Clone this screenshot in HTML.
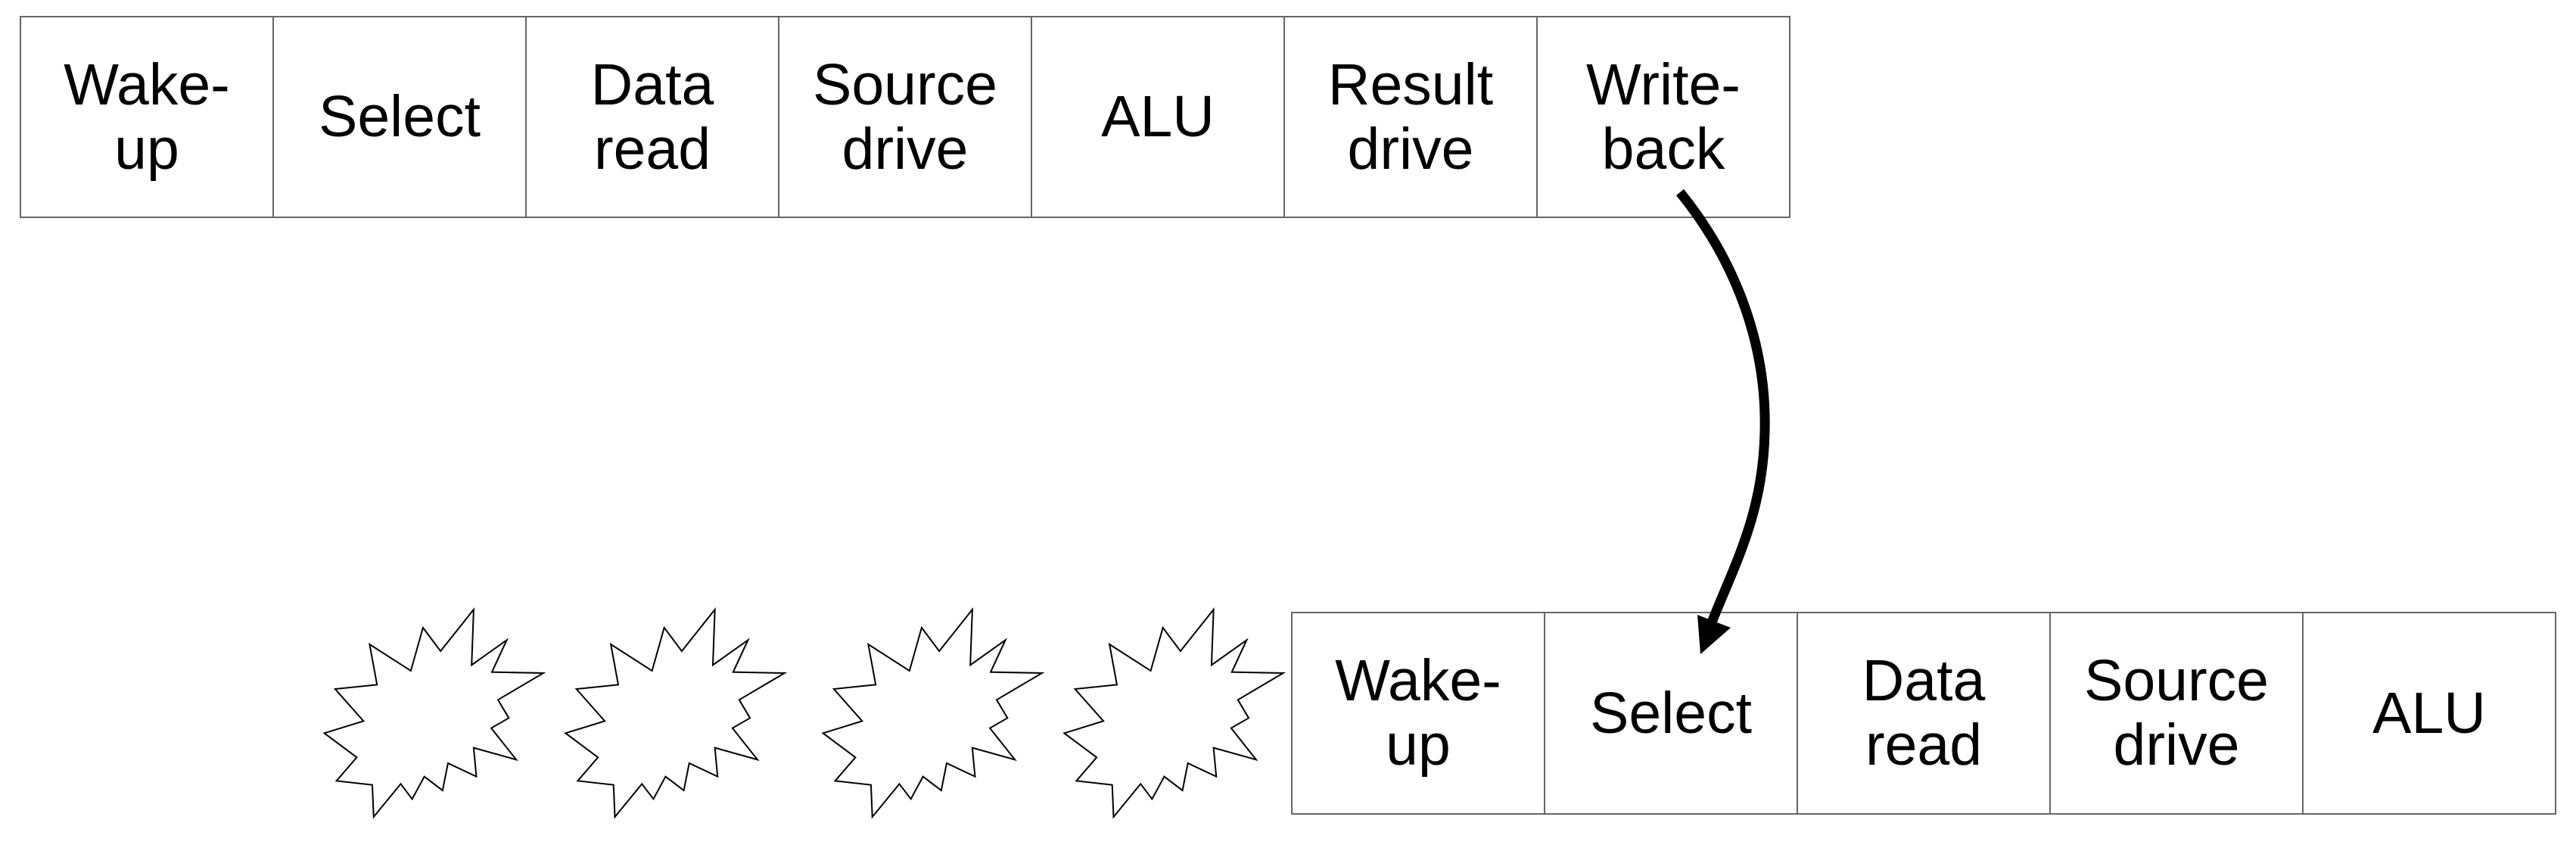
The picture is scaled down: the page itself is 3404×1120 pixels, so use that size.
<!DOCTYPE html>
<html><head><style>
html,body{margin:0;padding:0;background:#fff;}
body{width:3404px;height:1120px;position:relative;overflow:hidden;font-family:"Liberation Sans",sans-serif;}
.c{position:absolute;box-sizing:border-box;border:2px solid #666;display:flex;align-items:center;justify-content:center;text-align:center;font-size:77px;line-height:85px;color:#000;}
</style></head><body>
<div class="c" style="left:26px;top:21px;width:336px;height:267px;">Wake-<br>up</div>
<div class="c" style="left:360px;top:21px;width:336px;height:267px;">Select</div>
<div class="c" style="left:694px;top:21px;width:336px;height:267px;">Data<br>read</div>
<div class="c" style="left:1028px;top:21px;width:336px;height:267px;">Source<br>drive</div>
<div class="c" style="left:1362px;top:21px;width:336px;height:267px;">ALU</div>
<div class="c" style="left:1696px;top:21px;width:336px;height:267px;">Result<br>drive</div>
<div class="c" style="left:2030px;top:21px;width:336px;height:267px;">Write-<br>back</div>

<div class="c" style="left:1706px;top:808px;width:336px;height:268px;">Wake-<br>up</div>
<div class="c" style="left:2040px;top:808px;width:336px;height:268px;">Select</div>
<div class="c" style="left:2374px;top:808px;width:336px;height:268px;">Data<br>read</div>
<div class="c" style="left:2708px;top:808px;width:336px;height:268px;">Source<br>drive</div>
<div class="c" style="left:3042px;top:808px;width:336px;height:268px;">ALU</div>

<svg width="3404" height="1120" style="position:absolute;left:0;top:0">
<defs>
<polygon id="st" points="253,75 250,295 302,196 280,323 356,327 289,433 305,505 279,545 316,670 253,623 257,737 215,684 207,792 180,737 162,826 145,766 105,897 103,770 50,754 80,661 32,565 90,517 48,390 110,373 99,213 160,318 178,147 204,240" fill="#fff" stroke="#000" stroke-width="2" vector-effect="non-scaling-stroke"/>
</defs>
<g transform="translate(400,780) scale(0.8929,0.3333)">
<use href="#st"/>
<use href="#st" transform="translate(357,0)"/>
<use href="#st" transform="translate(738,0)"/>
<use href="#st" transform="translate(1095,0)"/>
</g>
<path d="M2220 254 C2290 340 2335 450 2332 570 C2330 680 2290 750 2262 822" fill="none" stroke="#000" stroke-width="13"/>
<polygon points="2243,812 2287,829 2247,864" fill="#000"/>
</svg>
</body></html>
